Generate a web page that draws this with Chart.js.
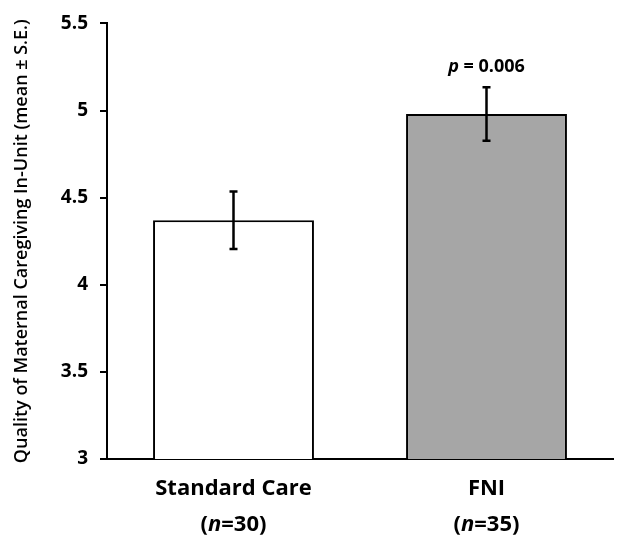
<!DOCTYPE html>
<html>
<head>
<meta charset="utf-8">
<script src="https://cdn.jsdelivr.net/npm/chart.js@4"></script>
<style>
html,body{margin:0;padding:0;background:#fff;}
#wrap{width:620px;height:538px;}
</style>
</head>
<body>
<div id="wrap"><canvas id="c" width="620" height="538"></canvas></div>
<script>
const categories = ["Standard Care", "FNI"];
const sampleSizes = ["30", "35"];
const means = [4.37, 4.98];
const stdErrors = [0.165, 0.153];
const barColors = ["#ffffff", "#a6a6a6"];
const yTicks = [3, 3.5, 4, 4.5, 5, 5.5];
const pLabel = "0.006";
const yTitle = "Quality of Maternal Caregiving In-Unit (mean \u00b1 S.E.)";

const FONT = "'Open Sans', Lato, sans-serif";

const extras = {
  id: 'extras',
  afterDatasetsDraw(chart) {
    const ctx = chart.ctx;
    const x = chart.scales.x, y = chart.scales.y;
    ctx.save();
    // error bars
    ctx.strokeStyle = '#000';
    ctx.lineWidth = 2.5;
    means.forEach((m, i) => {
      const px = x.getPixelForValue(i);
      const top = y.getPixelForValue(m + stdErrors[i]);
      const bot = y.getPixelForValue(m - stdErrors[i]);
      ctx.beginPath();
      ctx.moveTo(px, top); ctx.lineTo(px, bot);
      ctx.moveTo(px - 4, top); ctx.lineTo(px + 4, top);
      ctx.moveTo(px - 4, bot); ctx.lineTo(px + 4, bot);
      ctx.stroke();
    });
    // p label above FNI
    ctx.fillStyle = '#000';
    ctx.textBaseline = 'middle';
    const px2 = x.getPixelForValue(1);
    const py = y.getPixelForValue(means[1] + stdErrors[1]) - 20;
    const PF = 18;
    ctx.font = "italic bold " + PF + "px " + FONT;
    const w1 = ctx.measureText("p").width;
    ctx.font = "bold " + PF + "px " + FONT;
    const rest = " = " + pLabel;
    const w2 = ctx.measureText(rest).width;
    let sx = px2 - (w1 + w2) / 2;
    ctx.textAlign = 'left';
    ctx.font = "italic bold " + PF + "px " + FONT;
    ctx.fillText("p", sx, py);
    ctx.font = "bold " + PF + "px " + FONT;
    ctx.fillText(rest, sx + w1, py);
    // x category labels
    const XF = 22;
    categories.forEach((c, i) => {
      const cx = x.getPixelForValue(i);
      ctx.font = "bold " + XF + "px " + FONT;
      ctx.textAlign = 'center';
      ctx.fillText(c, cx, 489);
      const a = "(", b = "n", d = "=" + sampleSizes[i] + ")";
      ctx.font = "bold " + XF + "px " + FONT;
      const wa = ctx.measureText(a).width, wd = ctx.measureText(d).width;
      ctx.font = "italic bold " + XF + "px " + FONT;
      const wb = ctx.measureText(b).width;
      let s = cx - (wa + wb + wd) / 2;
      ctx.textAlign = 'left';
      ctx.font = "bold " + XF + "px " + FONT;
      ctx.fillText(a, s, 525);
      ctx.font = "italic bold " + XF + "px " + FONT;
      ctx.fillText(b, s + wa, 525);
      ctx.font = "bold " + XF + "px " + FONT;
      ctx.fillText(d, s + wa + wb, 525);
    });
    ctx.restore();
  }
};

new Chart(document.getElementById('c'), {
  type: 'bar',
  data: {
    labels: categories,
    datasets: [{
      data: means,
      backgroundColor: barColors,
      borderColor: '#000',
      borderWidth: 2,
      borderSkipped: false,
      categoryPercentage: 1,
      barPercentage: 0.636
    }]
  },
  options: {
    responsive: false,
    animation: false,
    devicePixelRatio: 1,
    layout: { padding: { top: 22, right: 7, left: 0, bottom: 0 } },
    plugins: { legend: { display: false }, tooltip: { enabled: false } },
    scales: {
      x: {
        grid: { display: false },
        border: { display: true, color: '#000', width: 2 },
        ticks: { display: false },
        afterFit(s) { s.height = 79; }
      },
      y: {
        min: 3, max: 5.5,
        afterBuildTicks(s) { s.ticks = yTicks.map(v => ({ value: v })); },
        grid: { drawOnChartArea: false, color: '#000', lineWidth: 2, tickLength: 7, tickWidth: 2 },
        border: { display: true, color: '#000', width: 2 },
        ticks: {
          color: '#000', padding: 12,
          font: { family: FONT, size: 19, weight: 'bold' },
          callback: v => String(v)
        },
        title: {
          display: true, text: yTitle, color: '#000',
          font: { family: FONT, size: 18, weight: '600' },
          padding: { top: 11, bottom: 0 }
        },
        afterFit(s) { s.width = 107; }
      }
    }
  },
  plugins: [extras]
});
</script>
</body>
</html>
